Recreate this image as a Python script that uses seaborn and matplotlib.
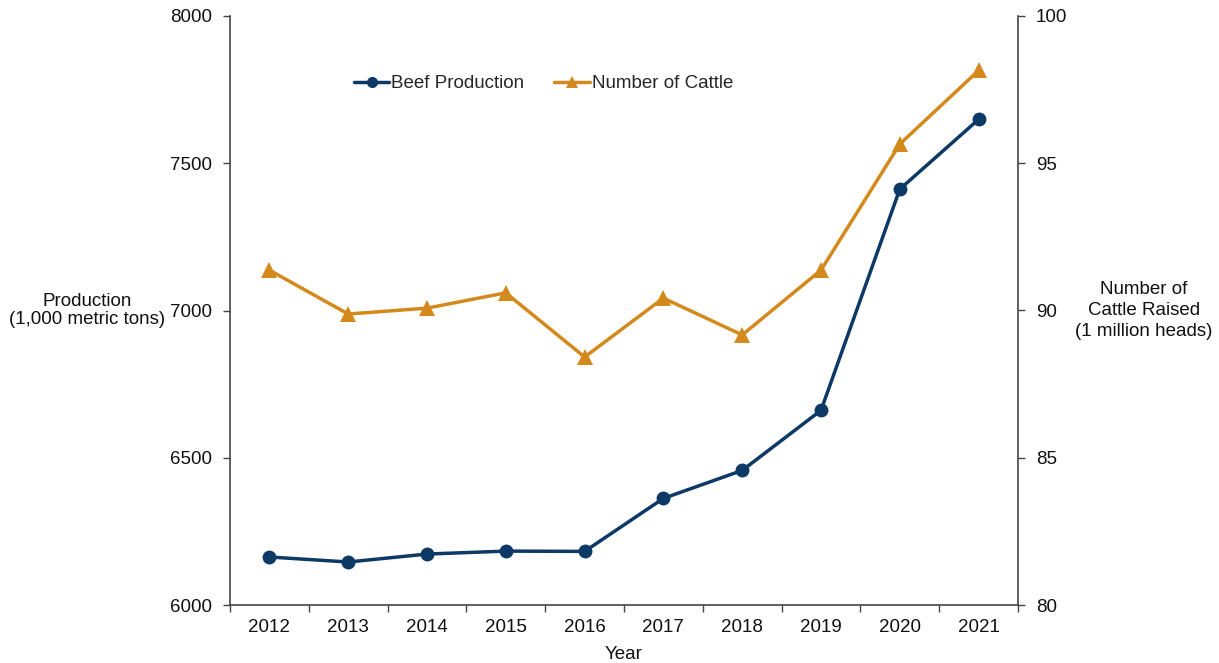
import numpy as np
import pandas as pd
import matplotlib
matplotlib.use("Agg")
import matplotlib.pyplot as plt
from matplotlib.ticker import FixedLocator
import seaborn as sns

years = ["2012", "2013", "2014", "2015", "2016", "2017", "2018", "2019", "2020", "2021"]
beef_production = [6163, 6146, 6173, 6183, 6182, 6362, 6457, 6661, 7412, 7649]
cattle_number = [91.37, 89.88, 90.08, 90.60, 88.42, 90.42, 89.17, 91.37, 95.65, 98.15]

BLUE = "#0C3966"
ORANGE = "#D4891C"
FS = 13.5

sns.set_theme(style="white")
plt.rcParams["font.family"] = ["Liberation Sans", "DejaVu Sans"]

fig = plt.figure(figsize=(12.19, 6.63), dpi=100)
ax = fig.add_axes([230 / 1219, 1 - 605 / 663, (1018 - 230) / 1219, (605 - 16) / 663])
ax2 = ax.twinx()

df = pd.DataFrame({"pos": np.arange(len(years)), "Year": years,
                   "beef": beef_production, "cattle": cattle_number})

sns.lineplot(data=df, x="pos", y="beef", ax=ax, color=BLUE, marker="o",
             markersize=10, linewidth=2.5, markeredgewidth=0, label="Beef Production",
             legend=False)
sns.lineplot(data=df, x="pos", y="cattle", ax=ax2, color=ORANGE, marker="^",
             markersize=11, linewidth=2.5, markeredgewidth=0, label="Number of Cattle",
             legend=False)

ax.set_xlim(-0.5, len(years) - 0.5)
ax.set_ylim(6000, 8000)
ax2.set_ylim(80, 100)
ax.set_yticks([6000, 6500, 7000, 7500, 8000])
ax2.set_yticks([80, 85, 90, 95, 100])

ax.set_xticks(df["pos"])
ax.set_xticklabels(years)
ax.xaxis.set_minor_locator(FixedLocator(np.arange(-0.5, len(years), 1.0)))
ax.tick_params(axis="x", which="major", length=0, labelsize=FS, pad=10, colors="#111111")
ax.tick_params(axis="x", which="minor", length=5, width=1, color="#444444", direction="out", bottom=True)
ax.tick_params(axis="y", which="major", length=5, width=1, color="#444444", direction="out",
               left=True, labelsize=FS, pad=8, labelcolor="#111111")
ax2.tick_params(axis="y", which="major", length=5, width=1, color="#444444", direction="out",
                right=True, labelsize=FS, pad=8, labelcolor="#111111")

for a in (ax, ax2):
    a.spines["top"].set_visible(False)
    for s in ("left", "right", "bottom"):
        a.spines[s].set_color("#444444")
        a.spines[s].set_linewidth(1.2)
ax.spines["right"].set_visible(False)
ax2.spines["left"].set_visible(False)
ax2.spines["bottom"].set_visible(False)

ax.set_xlabel("Year", fontsize=FS, color="#111111", labelpad=7)
ax.set_ylabel("Production\n(1,000 metric tons)", fontsize=FS, color="#111111",
              rotation=0, ha="center", va="center", linespacing=1.15)
ax.yaxis.set_label_coords(-0.181, 0.5)
ax2.set_ylabel("Number of\nCattle Raised\n(1 million heads)", fontsize=FS, color="#111111",
               rotation=0, ha="center", va="center", linespacing=1.3)
ax2.yaxis.set_label_coords(1.16, 0.5)

h1, l1 = ax.get_legend_handles_labels()
h2, l2 = ax2.get_legend_handles_labels()
ax2.legend(h1 + h2, l1 + l2, loc="center", bbox_to_anchor=(0.398, 0.885), ncol=2,
           frameon=False, fontsize=FS, handlelength=1.9, handletextpad=0.1,
           columnspacing=1.6, markerscale=0.8)

fig.savefig("out.png", dpi=100)
